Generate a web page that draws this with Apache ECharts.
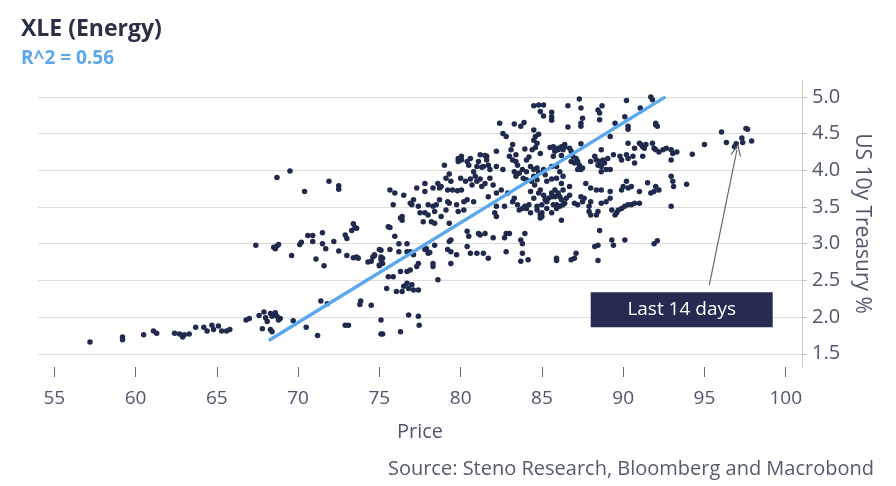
<!DOCTYPE html>
<html><head><meta charset="utf-8">
<script src="https://cdn.jsdelivr.net/npm/echarts@6/dist/echarts.min.js"></script>
<style>html,body{margin:0;padding:0;background:#fff}#c{width:896px;height:486px}</style>
</head><body><div id="c"></div>
<script>
// [price, US 10y yield %]
const scatterPoints = [
[57.2,1.66],[59.2,1.73],[59.2,1.69],[60.5,1.76],[61.1,1.81],[61.3,1.78],[62.4,1.78],[62.7,1.77],[62.9,1.73],[63.0,1.76],[63.3,1.77],[63.7,1.86],[64.2,1.86],[64.4,1.81],[64.7,1.89],[64.8,1.83],[65.1,1.88],[65.3,1.81],[65.6,1.81],[65.8,1.83],[66.8,1.96],[67.0,1.98],[67.6,2.02],[67.9,2.07],[68.1,1.94],[68.3,2.05],[68.4,2.01],[68.5,2.03],[68.7,2.01],[68.8,1.96],[68.9,1.98],[67.8,1.84],[68.3,1.83],[68.4,1.80],[69.7,1.95],[68.0,1.99],[68.6,2.06],
[68.7,3.90],[69.5,3.99],[70.4,3.71],[71.9,3.85],[72.5,3.79],[72.5,3.74],[67.4,2.98],[68.5,2.95],[68.6,2.93],[68.7,2.97],[68.8,2.99],[69.6,2.84],[70.1,2.99],[70.2,3.02],[70.6,3.11],[70.9,3.11],[70.9,3.03],[71.5,3.15],[71.5,3.00],[71.7,2.93],[71.1,2.79],[71.6,2.70],[72.2,3.03],[72.5,2.90],[72.9,3.12],[73.0,3.07],[73.3,3.18],[73.4,3.27],[73.5,3.22],[73.6,3.21],[73.0,2.84],[73.4,2.81],[73.6,2.82],[73.7,2.80],[74.3,2.75],[74.6,2.82],[74.7,2.84],[75.2,2.80],[75.1,2.91],[75.0,2.70],[71.4,2.22],[71.8,2.18],[73.85,2.22],[73.8,2.17],[74.5,2.16],[70.5,1.86],[71.2,1.75],[72.9,1.89],[73.1,1.89],[75.1,1.96],[75.2,1.77],[76.3,1.80],[76.8,2.03],[77.4,2.01],[77.45,1.89],[75.1,1.77],
[75.65,3.73],[75.95,3.69],[76.5,3.66],[75.85,3.53],[77.1,3.60],[77.3,3.76],[77.8,3.82],[77.8,3.71],[78.3,3.76],[78.6,3.82],[78.7,3.76],[78.8,3.78],[79.0,4.07],[79.3,3.95],[79.2,3.73],[79.5,3.73],[79.8,3.72],[80.05,3.73],[80.0,3.89],[80.3,3.85],[80.6,3.88],[80.8,3.98],[80.7,3.80],[81.0,3.85],[81.2,3.88],[81.3,3.78],[81.5,3.82],[81.8,3.89],[82.0,3.80],[82.5,3.73],[82.2,3.69],[80.4,3.60],[80.2,3.57],[80.8,3.57],
[76.9,3.55],[77.0,3.53],[77.4,3.51],[77.5,3.42],[77.8,3.42],[78.0,3.39],[78.3,3.51],[78.5,3.53],[78.4,3.44],[78.2,3.30],[78.4,3.28],[78.8,3.37],[79.1,3.46],[79.2,3.57],[79.3,3.28],[79.85,3.44],[80.2,3.46],[77.7,3.30],[76.3,3.35],[75.55,3.23],[76.4,3.37],[78.0,3.53],[78.7,3.60],[79.3,3.55],[79.75,3.53],[79.1,3.89],[79.4,3.85],
[75.95,3.10],[76.7,3.00],[76.2,3.00],[75.65,2.92],[75.0,2.92],[74.7,2.85],[75.1,2.82],[75.2,2.73],[77.8,2.92],[78.0,2.87],[78.4,2.98],[78.3,2.73],[78.3,2.69],[79.3,3.03],[79.2,2.92],[79.4,2.73],[79.75,2.85],[79.4,3.05],[79.4,2.89],[75.55,2.55],[75.45,2.39],[75.85,2.55],[76.3,2.62],[76.9,2.64],[76.05,2.35],[76.4,2.35],[76.5,2.42],[76.7,2.46],[76.8,2.39],[77.0,2.44],[77.1,2.37],[77.4,2.37],[78.6,2.51],[76.9,2.89],[77.1,2.85],[77.4,2.73],[77.3,2.69],[76.2,2.89],[76.7,2.89],[76.7,2.62],[75.65,3.22],[76.4,3.32],[75.1,2.78],[75.0,2.71],[74.5,2.76],[77.9,2.93],[78.1,2.88],
[80.4,3.17],[81.1,3.14],[81.5,3.14],[82.8,3.14],[83.0,3.14],[83.95,3.14],[82.0,3.08],[82.7,3.08],[83.7,3.05],[83.8,3.00],[80.4,2.96],[80.6,2.87],[81.0,2.87],[81.4,2.87],[81.7,2.80],[82.8,2.89],[83.8,2.87],[84.15,2.78],[81.2,3.12],[80.5,3.10],[83.7,2.76],
[84.5,4.88],[84.8,4.89],[85.1,4.89],[84.9,4.80],[85.1,4.74],[85.6,4.79],[85.6,4.73],[85.6,4.68],[82.4,4.64],[83.3,4.63],[83.7,4.60],[83.9,4.65],[82.6,4.50],[82.8,4.46],[84.5,4.55],[84.6,4.46],[84.5,4.41],[84.8,4.49],[84.7,4.37],[83.2,4.35],[83.1,4.28],[83.4,4.21],[83.95,4.29],[84.4,4.28],[84.6,4.31],[84.9,4.23],[84.05,4.14],[84.2,4.18],[85.5,4.31],[85.8,4.27],[86.0,4.28],[86.2,4.32],[86.4,4.35],[85.7,4.19],[86.2,4.20],
[82.2,4.26],[81.5,4.20],[81.6,4.14],[80.6,4.16],[80.0,4.16],[79.85,4.12],[80.05,4.14],[80.4,4.12],[80.5,4.07],[81.1,4.12],[81.0,4.05],[81.3,4.04],[81.7,4.07],[81.8,4.01],[82.2,4.05],[82.6,4.01],[83.0,4.19],[83.2,4.14],[83.4,4.12],[83.5,4.07],[83.3,3.98],[83.4,3.92],[83.6,3.96],[83.8,4.01],[84.05,3.98],[84.3,4.05],[84.5,4.01],[84.7,4.03],[84.8,3.97],[84.5,3.92],[84.7,3.87],[85.1,4.01],[85.2,3.94],[85.6,4.05],[85.9,4.05],[86.1,3.98],[86.3,3.92],[85.9,3.89],[85.6,3.88],[85.3,3.85],[79.85,4.16],[80.05,4.19],[81.4,4.05],[81.6,4.19],[80.9,3.92],[81.2,4.21],
[84.05,3.87],[83.85,3.89],[84.35,3.85],[84.55,3.80],[84.9,3.73],[84.8,3.69],[85.1,3.66],[85.2,3.60],[85.4,3.62],[85.6,3.69],[85.8,3.64],
[83.3,3.62],[83.5,3.53],[84.3,3.71],[84.5,3.62],[84.7,3.51],[85.0,3.53],[85.0,3.42],[84.9,3.35],[85.3,3.57],[85.6,3.64],[86.0,3.66],[86.2,3.60],[86.3,3.53],[85.9,3.53],[85.6,3.42],[86.2,3.32],[82.1,3.42],[82.2,3.37],[82.7,3.51],[84.05,3.48],[83.6,3.46],[81.7,3.64],[82.2,3.51],[82.9,3.69],[83.2,3.57],
[85.3,3.48],[84.9,3.40],[85.0,3.37],[84.7,3.46],[84.3,3.42],[84.2,3.53],[83.95,3.51],[83.8,3.48],[86.7,3.66],[86.5,3.62],[86.4,3.55],[86.1,3.51],[85.9,3.48],[85.7,3.53],[86.7,3.78],[86.2,3.82],[86.3,3.73],[86.0,3.69],[86.1,3.64],[85.8,3.73],
[86.6,4.88],[87.3,4.97],[87.4,4.85],[87.5,4.71],[87.4,4.64],[87.4,4.60],[86.6,4.59],[88.45,4.82],[88.55,4.78],[88.55,4.69],[88.7,4.88],[89.5,4.64],[90.2,4.95],[90.1,4.73],[91.05,4.85],[91.7,5.0],[92.0,4.62],[89.2,4.46],[92.0,4.64],[92.1,4.60],[90.3,4.60],[90.3,4.56],[91.8,4.96],
[85.7,4.32],[85.8,4.26],[86.0,4.30],[86.3,4.28],[86.4,4.32],[86.7,4.30],[86.8,4.26],[86.9,4.19],[87.1,4.16],[87.2,4.12],[87.3,4.07],[87.4,4.01],[87.5,4.03],[87.2,4.01],[87.0,4.10],[86.8,4.12],[87.4,4.36],
[88.0,4.12],[88.25,4.19],[88.35,4.14],[88.45,4.07],[88.55,4.12],[88.65,4.05],[88.75,4.14],[88.85,4.10],[88.95,4.01],[89.05,4.16],[88.65,3.98],[88.65,4.28],[89.2,4.01],
[89.4,4.21],[89.8,4.19],[89.9,4.14],[90.2,4.21],[90.3,4.16],[90.3,4.37],[90.7,4.30],[90.6,4.19],[90.7,4.10],[91.0,4.37],[91.1,4.35],[91.2,4.32],[91.3,4.30],[91.4,4.35],[91.8,4.37],[91.9,4.30],[92.0,4.28],[92.2,4.25],[92.45,4.28],[92.65,4.30],[92.95,4.28],[93.05,4.23],[93.3,4.25],[92.95,4.14],[91.2,4.19],
[94.25,4.22],[95.0,4.35],[96.05,4.52],[96.35,4.38],[96.85,4.32],[96.95,4.36],[97.3,4.44],[97.35,4.38],[97.55,4.57],[97.65,4.56],[97.9,4.40],[93.9,3.81],
[92.95,3.92],[93.05,3.85],[93.1,3.78],[92.0,3.78],[92.2,3.73],[91.9,3.71],[91.7,3.69],[91.5,3.83],[91.0,3.71],[90.5,3.78],[90.2,3.85],[90.0,3.78],[89.9,3.73],[90.3,3.76],[89.2,3.71],[92.95,3.51],[91.0,3.55],[90.7,3.55],[90.5,3.53],[90.3,3.53],[90.1,3.51],[89.9,3.48],[89.7,3.46],[89.6,3.42],[89.5,3.39],[88.95,3.57],[88.65,3.55],[88.0,3.57],[87.9,3.51],[87.4,3.64],[87.6,3.62],[87.5,3.57],[87.2,3.53],[87.0,3.55],[87.9,3.44],[88.0,3.39],[88.35,3.39],[88.45,3.44],[87.7,3.82],[88.0,3.76],[88.35,3.73],[88.65,3.73],[89.2,3.62],[89.3,3.46],
[88.55,3.18],[88.25,2.96],[88.45,2.98],[89.3,3.05],[89.4,2.98],[90.1,3.05],[91.9,3.00],[92.1,3.04],[87.1,2.87],[85.9,2.80],[87.0,2.80],[85.9,2.77],[86.8,2.78],[88.45,2.77]
];
const fitLine = [[68.2, 1.68], [92.6, 5.0]];
const xTicks = [55, 60, 65, 70, 75, 80, 85, 90, 95, 100];
const yTicks = [1.5, 2.0, 2.5, 3.0, 3.5, 4.0, 4.5, 5.0];
const arrowFrom = [95.3, 2.44];
const arrowTo = [97.0, 4.28];
const boxAt = [93.6, 2.10];
const boxText = 'Last 14 days';
const titleText = 'XLE (Energy)';
const subtitleText = 'R^2 = 0.56';
const sourceText = 'Source: Steno Research, Bloomberg and Macrobond';

const FONT = 'Open Sans';
const chart = echarts.init(document.getElementById('c'), null, {renderer: 'canvas'});
chart.setOption({
  animation: false,
  backgroundColor: '#ffffff',
  textStyle: {fontFamily: FONT},
  title: [
    {text: titleText, left: 21, top: 18, padding: 0, textStyle: {fontFamily: FONT, fontSize: 23, fontWeight: 'bold', color: '#2c3047'}},
    {text: subtitleText, left: 21, top: 49, padding: 0, textStyle: {fontFamily: FONT, fontSize: 19, fontWeight: 'bold', color: '#5ea8ea'}},
    {text: sourceText, right: 22, top: 459, padding: 0, textStyle: {fontFamily: FONT, fontSize: 20, fontWeight: 'normal', color: '#555b6b'}}
  ],
  grid: {left: 38, right: 94, top: 80, bottom: 119, containLabel: false},
  xAxis: {
    type: 'value', min: 54, max: 101,
    axisLine: {show: false},
    axisTick: {show: true, customValues: xTicks, length: 10, lineStyle: {color: '#666'}},
    axisLabel: {customValues: xTicks, color: '#50566a', fontSize: 19, margin: 22, fontFamily: FONT},
    splitLine: {show: false},
    name: 'Price', nameLocation: 'middle', nameGap: 55,
    nameTextStyle: {color: '#50566a', fontSize: 20, fontFamily: FONT}
  },
  yAxis: {
    type: 'value', position: 'right', min: 1.32, max: 5.23,
    axisLine: {show: true, lineStyle: {color: '#cfcfcf'}},
    axisTick: {show: true, customValues: yTicks, length: 5, lineStyle: {color: '#bdbdbd'}},
    axisLabel: {customValues: yTicks, formatter: v => Number(v).toFixed(1), color: '#50566a', fontSize: 20, margin: 10, fontFamily: FONT},
    splitLine: {show: true, lineStyle: {color: '#dddddd', width: 1}},
    name: 'US 10y Treasury %', nameLocation: 'middle', nameRotate: -90, nameGap: 48,
    nameTextStyle: {color: '#50566a', fontSize: 21, fontFamily: FONT}
  },
  series: [
    {type: 'scatter', data: scatterPoints, symbolSize: 5.5, itemStyle: {color: '#1f2a4d', opacity: 1}, z: 2},
    {type: 'line', data: fitLine, showSymbol: false, symbol: 'none', lineStyle: {color: '#5aa9ee', width: 3.5}, z: 3},
    {type: 'scatter', data: [], z: 4,
      markLine: {
        silent: true, animation: false,
        symbol: ['none', 'path://M0,12 L6,0 L12,12 L10.6,12 L6,3.2 L1.4,12 Z'],
        symbolSize: [11, 12],
        lineStyle: {color: '#666a70', width: 1.2, type: 'solid'},
        label: {show: false},
        data: [[{coord: arrowFrom}, {coord: arrowTo}]]
      },
      markPoint: {
        silent: true, animation: false,
        data: [{coord: boxAt, value: boxText}],
        symbol: 'rect', symbolSize: [182, 35],
        itemStyle: {color: '#262b52'},
        label: {show: true, position: 'inside', formatter: boxText, color: '#ffffff', fontSize: 19, fontFamily: FONT}
      }
    }
  ]
});
</script></body></html>
